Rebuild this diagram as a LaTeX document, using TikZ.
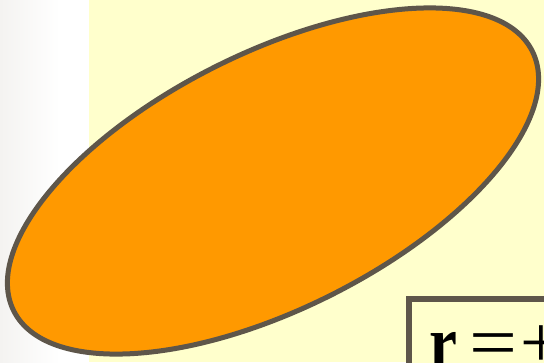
\documentclass[tikz,border=0pt]{standalone}
\usepackage{fontspec}
\setmainfont{Liberation Serif}
\usepackage{tikz}
\usetikzlibrary{shapes.geometric}
\definecolor{slideyellow}{RGB}{255,255,204}
\definecolor{bloborange}{RGB}{255,153,0}
\definecolor{edgebrown}{RGB}{94,86,74}
\definecolor{stripgray}{RGB}{244,243,241}
\tikzset{
  blobshape/.style={
    ellipse,draw=edgebrown,fill=bloborange,line width=5pt,
    minimum width=580pt,minimum height=256pt,inner sep=0pt
  },
  eqbox/.style={
    draw=edgebrown,fill=slideyellow,line width=5.5pt,inner xsep=21pt,inner ysep=0pt,
    text height=69pt,text depth=20pt,font=\fontsize{74}{74}\selectfont
  }
}
\begin{document}
\begin{tikzpicture}[x=1pt,y=-1pt]
  \useasboundingbox (0,0) rectangle (544,362);
  \clip (0,0) rectangle (544,362);
  % slide background
  \shade[left color=stripgray,right color=white] (0,0) rectangle (60,362);
  \fill[white] (60,0) rectangle (89,362);
  \fill[slideyellow] (89,0) rectangle (544,362);
  \node[blobshape,rotate=26.6] (blob) at (273,181) {};
  \node[eqbox,anchor=north west] (eq) at (406,296)
    {\scalebox{0.85}[1]{\textbf{r}}\hspace{12pt}\scalebox{1.15}[1]{=}\hspace{3pt}+\hspace{40pt}};
\end{tikzpicture}
\end{document}
